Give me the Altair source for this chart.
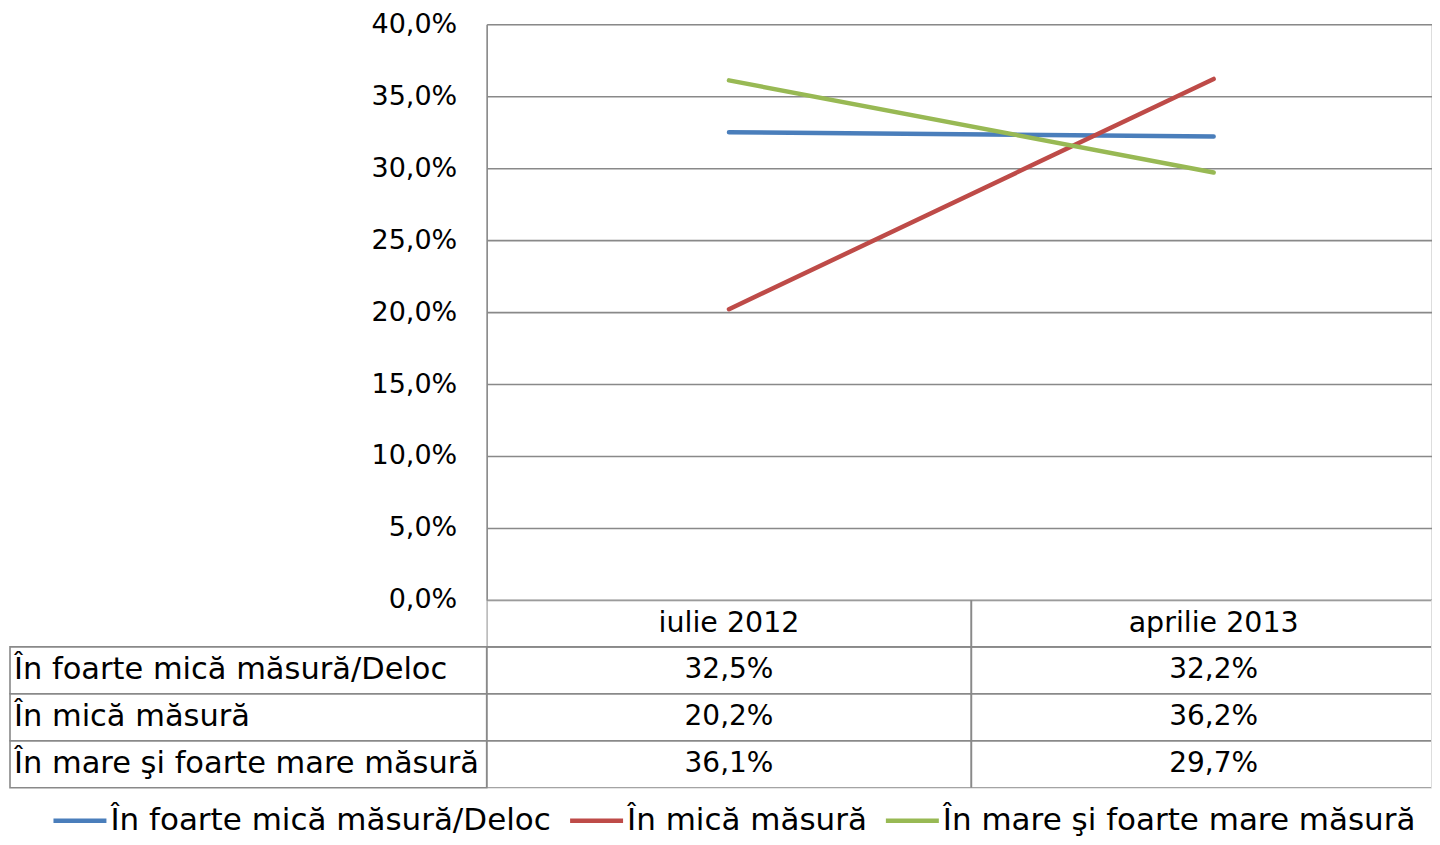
import altair as alt
import pandas as pd

# ---- data ----
periods = ["iulie 2012", "aprilie 2013"]
series = ["În foarte mică măsură/Deloc", "În mică măsură", "În mare şi foarte mare măsură"]
vals_foarte_mica = [0.325, 0.322]
vals_mica = [0.202, 0.362]
vals_mare = [0.361, 0.297]
colors = ["#4A7EBB", "#BE4B48", "#98B954"]
y_ticks = [0.0, 0.05, 0.10, 0.15, 0.20, 0.25, 0.30, 0.35, 0.40]

FONT = "DejaVu Sans"
GRID = "#898989"
LW = 1.6

all_vals = [vals_foarte_mica, vals_mica, vals_mare]

rows = []
for s, vals in zip(series, all_vals):
    for p, v in zip(periods, vals):
        rows.append({"series": s, "period": p, "value": v})
df = pd.DataFrame(rows)

cells = []
for p in periods:
    cells.append({"row": "header", "period": p, "label": p, "kind": "header"})
for s, vals in zip(series, all_vals):
    for p, v in zip(periods, vals):
        cells.append({"row": s, "period": p,
                      "label": f"{v * 100:.1f}%".replace(".", ","), "kind": "value"})
cells_df = pd.DataFrame(cells)

labels_df = pd.DataFrame({"row": series, "col": ["label"] * len(series), "label": series})

row_domain = ["header"] + series


def period_x(**kw):
    return alt.X("period:N",
                 scale=alt.Scale(type="band", domain=periods, range=[0, 970],
                                 paddingInner=0, paddingOuter=0),
                 axis=None, **kw)


def row_y(**kw):
    return alt.Y("row:N", scale=alt.Scale(type="band", domain=row_domain,
                                          paddingInner=0, paddingOuter=0),
                 axis=None, **kw)


# ---- line chart ----
lines = alt.Chart(df).mark_line(strokeWidth=4.5, strokeCap="round", clip=True).encode(
    x=period_x(bandPosition=0.5),
    y=alt.Y("value:Q",
            scale=alt.Scale(domain=[0, 0.4], nice=False, zero=True),
            axis=alt.Axis(values=y_ticks,
                          labelExpr="replace(format(datum.value, '.1%'), '.', ',')",
                          grid=True, gridColor=GRID, gridWidth=LW,
                          domain=True, domainColor=GRID, domainWidth=LW,
                          ticks=False, labelPadding=30, labelFontSize=27,
                          labelFont=FONT, labelColor="black", title=None)),
    color=alt.Color("series:N",
                    scale=alt.Scale(domain=series, range=colors),
                    legend=alt.Legend(orient="none", legendX=-436, legendY=782,
                                      direction="horizontal", title=None,
                                      symbolType="stroke", symbolSize=2809,
                                      symbolStrokeWidth=4.5, labelFontSize=31,
                                      labelFont=FONT, labelColor="black",
                                      labelLimit=1000, columnPadding=16,
                                      labelOffset=1.5, clipHeight=30, padding=0)),
).properties(width=945, height=576)

# ---- data table ----
data_rects = alt.Chart(cells_df).mark_rect(
    fillOpacity=0, stroke=GRID, strokeWidth=LW, clip=True
).encode(x=period_x(), y=row_y())

header_text = alt.Chart(cells_df).transform_filter(
    alt.datum.kind == "header"
).mark_text(fontSize=28.5, font=FONT, color="black", align="center", baseline="middle").encode(
    x=period_x(bandPosition=0.5), y=row_y(bandPosition=0.5), text="label:N"
)

value_text = alt.Chart(cells_df).transform_filter(
    alt.datum.kind == "value"
).mark_text(fontSize=28, font=FONT, color="black", align="center", baseline="middle").encode(
    x=period_x(bandPosition=0.5), y=row_y(bandPosition=0.5), text="label:N"
)

label_x = alt.Scale(type="band", domain=["label"], range=[-477, 0],
                    paddingInner=0, paddingOuter=0)

label_rects = alt.Chart(labels_df).mark_rect(
    fillOpacity=0, stroke=GRID, strokeWidth=LW
).encode(x=alt.X("col:N", scale=label_x, axis=None), y=row_y())

label_text = alt.Chart(labels_df).mark_text(
    fontSize=30.5, font=FONT, color="black", align="left", baseline="middle", dx=4
).encode(
    x=alt.X("col:N", scale=label_x, axis=None, bandPosition=0),
    y=row_y(bandPosition=0.5),
    text="label:N",
)

table = alt.layer(data_rects, header_text, value_text, label_rects, label_text).resolve_scale(
    x="independent"
).properties(width=945, height=188)

chart = alt.vconcat(lines, table, spacing=0, bounds="flush").resolve_scale(
    x="independent", y="independent", color="independent"
).properties(
    padding={"left": 0, "top": 1, "right": 0, "bottom": 0},
).configure_view(strokeWidth=0).configure(background="white")

chart.save("out.html", embed_options={"renderer": "svg", "actions": False})
